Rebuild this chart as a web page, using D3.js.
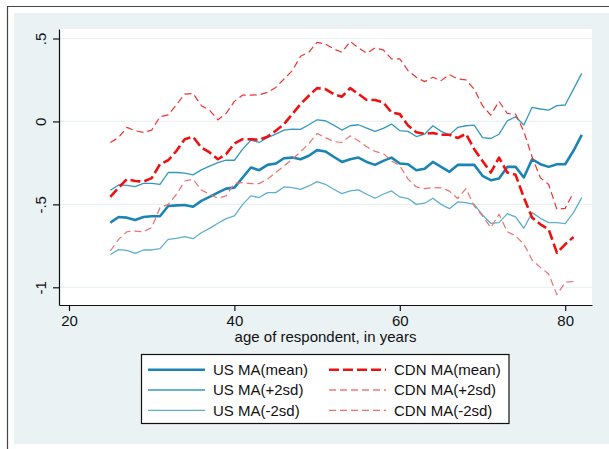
<!DOCTYPE html>
<html>
<head>
<meta charset="utf-8">
<script src="https://cdn.jsdelivr.net/npm/d3@7"></script>
<style>
  html, body { margin: 0; padding: 0; background: #ffffff; }
  svg { display: block; font-family: Arial, "Liberation Sans", sans-serif; }
</style>
</head>
<body>
<svg id="chart" width="609" height="449"></svg>
<script>
// Moving averages by age: US and Canadian samples, mean and +/- 2 sd bands
const usAges  = d3.range(25, 83);   // 25..82
const cdnAges = d3.range(25, 82);   // 25..81

const usMean = [-0.610,-0.576,-0.580,-0.594,-0.576,-0.572,-0.572,-0.510,-0.506,-0.504,
  -0.514,-0.479,-0.455,-0.429,-0.405,-0.399,-0.338,-0.278,-0.294,-0.262,
  -0.254,-0.222,-0.218,-0.228,-0.207,-0.173,-0.181,-0.213,-0.244,-0.228,
  -0.218,-0.244,-0.262,-0.238,-0.218,-0.254,-0.258,-0.294,-0.285,-0.244,
  -0.274,-0.304,-0.262,-0.262,-0.262,-0.328,-0.354,-0.344,-0.274,-0.274,
  -0.338,-0.228,-0.258,-0.274,-0.258,-0.258,-0.177,-0.081];
const usHi = [-0.415,-0.383,-0.385,-0.393,-0.373,-0.373,-0.379,-0.308,-0.308,-0.312,
  -0.322,-0.292,-0.270,-0.248,-0.234,-0.234,-0.167,-0.113,-0.127,-0.097,
  -0.077,-0.052,-0.046,-0.048,-0.020,0.010,0.004,-0.022,-0.052,-0.026,
  -0.020,-0.040,-0.060,-0.042,-0.016,-0.056,-0.060,-0.091,-0.077,-0.026,
  -0.060,-0.081,-0.036,-0.026,-0.022,-0.097,-0.103,-0.077,0.004,0.028,
  -0.022,0.085,0.075,0.068,0.095,0.099,0.195,0.290];
const usLo = [-0.802,-0.773,-0.777,-0.796,-0.775,-0.775,-0.767,-0.711,-0.705,-0.695,
  -0.707,-0.671,-0.645,-0.614,-0.586,-0.570,-0.500,-0.449,-0.459,-0.429,
  -0.429,-0.395,-0.399,-0.409,-0.389,-0.363,-0.379,-0.409,-0.435,-0.419,
  -0.413,-0.439,-0.463,-0.439,-0.419,-0.455,-0.465,-0.500,-0.493,-0.463,
  -0.500,-0.526,-0.485,-0.489,-0.500,-0.564,-0.614,-0.610,-0.556,-0.576,
  -0.644,-0.550,-0.584,-0.610,-0.610,-0.616,-0.550,-0.459];

const cdnMean = [-0.455,-0.399,-0.348,-0.359,-0.363,-0.342,-0.258,-0.234,-0.177,-0.107,
  -0.093,-0.157,-0.187,-0.228,-0.197,-0.133,-0.107,-0.107,-0.111,-0.092,
  -0.056,-0.016,0.044,0.105,0.155,0.201,0.195,0.165,0.149,0.201,
  0.165,0.129,0.129,0.115,0.054,0.044,-0.025,-0.065,-0.075,-0.070,
  -0.080,-0.080,-0.100,-0.075,-0.167,-0.238,-0.308,-0.218,-0.308,-0.322,
  -0.459,-0.580,-0.620,-0.651,-0.792,-0.741,-0.697];
const cdnHi = [-0.127,-0.097,-0.036,-0.056,-0.066,-0.052,0.028,0.040,0.101,0.165,
  0.169,0.095,0.068,0.010,0.048,0.121,0.159,0.159,0.161,0.175,
  0.205,0.256,0.306,0.393,0.417,0.477,0.467,0.437,0.417,0.483,
  0.443,0.411,0.443,0.431,0.377,0.377,0.306,0.266,0.240,0.266,
  0.246,0.282,0.256,0.250,0.195,0.095,0.038,0.121,0.048,0.044,
  -0.060,-0.215,-0.340,-0.380,-0.530,-0.524,-0.429];
const cdnLo = [-0.781,-0.711,-0.665,-0.661,-0.665,-0.640,-0.520,-0.500,-0.439,-0.359,
  -0.348,-0.413,-0.439,-0.463,-0.449,-0.373,-0.369,-0.375,-0.375,-0.348,
  -0.308,-0.268,-0.228,-0.183,-0.133,-0.073,-0.097,-0.121,-0.127,-0.087,
  -0.117,-0.153,-0.181,-0.193,-0.238,-0.268,-0.348,-0.395,-0.405,-0.399,
  -0.400,-0.420,-0.465,-0.405,-0.510,-0.570,-0.640,-0.560,-0.665,-0.690,
  -0.740,-0.835,-0.880,-0.920,-1.045,-0.970,-0.965];

const xTickValues = [20, 40, 60, 80];
const xTickLabels = ["20", "40", "60", "80"];
const yTickValues = [0.5, 0, -0.5, -1];
const yTickLabels = [".5", "0", "-.5", "-1"];
const xTitle = "age of respondent, in years";

const seriesNames = ["US MA(mean)", "US MA(+2sd)", "US MA(-2sd)",
                     "CDN MA(mean)", "CDN MA(+2sd)", "CDN MA(-2sd)"];

// drawing styles
const styles = [
  { color: "#1b84b4", width: 2.6, dash: null },
  { color: "#3598bf", width: 1.3, dash: null },
  { color: "#5eb0c9", width: 1.3, dash: null },
  { color: "#ee1111", width: 2.6, dash: "10,4" },
  { color: "#ea3535", width: 1.2, dash: "7,4" },
  { color: "#ea7272", width: 1.2, dash: "7,4" }
];

const series = [
  { ages: usAges, vals: usMean },
  { ages: usAges, vals: usHi },
  { ages: usAges, vals: usLo },
  { ages: cdnAges, vals: cdnMean },
  { ages: cdnAges, vals: cdnHi },
  { ages: cdnAges, vals: cdnLo }
];

const svg = d3.select("#chart");
const W = 609, H = 449;
const plot = { left: 59, right: 592, top: 29, bottom: 305 };
const bg = "#eaf2f3";

// outer frame
svg.append("rect").attr("x", 0).attr("y", 0).attr("width", W).attr("height", H).attr("fill", "#ffffff");
svg.append("rect").attr("x", 14).attr("y", 13).attr("width", W - 14).attr("height", 431).attr("fill", bg);
svg.append("line").attr("x1", 7.5).attr("x2", 7.5).attr("y1", 6).attr("y2", H).attr("stroke", "#444").attr("stroke-width", 1.2);
svg.append("line").attr("x1", 7).attr("x2", W).attr("y1", 6.5).attr("y2", 6.5).attr("stroke", "#444").attr("stroke-width", 1.2);

// scales: age 20 -> 69px, 80 -> 565px; value .5 -> 38.5px, -1 -> 287.3px
const x = d3.scaleLinear().domain([20, 80]).range([69, 565.2]);
const y = d3.scaleLinear().domain([0.5, -1]).range([38.5, 287.3]);
const xDom = [x.invert(plot.left), x.invert(plot.right)];
const yDom = [y.invert(plot.bottom), y.invert(plot.top)];
x.domain(xDom).range([plot.left, plot.right]);
y.domain(yDom).range([plot.bottom, plot.top]);

// plot region
svg.append("rect").attr("x", plot.left).attr("y", plot.top)
  .attr("width", plot.right - plot.left).attr("height", plot.bottom - plot.top)
  .attr("fill", "#ffffff");

// horizontal grid lines
svg.append("g").selectAll("line").data(yTickValues).join("line")
  .attr("x1", plot.left).attr("x2", plot.right)
  .attr("y1", d => y(d)).attr("y2", d => y(d))
  .attr("stroke", bg).attr("stroke-width", 1.2);

// series lines
const line = d3.line().x(d => x(d[0])).y(d => y(d[1]));
series.forEach((s, i) => {
  const pts = s.ages.map((a, k) => [a, s.vals[k]]);
  const st = styles[i];
  svg.append("path").datum(pts)
    .attr("d", line)
    .attr("fill", "none")
    .attr("stroke", st.color)
    .attr("stroke-width", st.width)
    .attr("stroke-linejoin", "round")
    .attr("stroke-dasharray", st.dash);
});

// axes
const xAxis = d3.axisBottom(x).tickValues(xTickValues)
  .tickFormat((d, i) => xTickLabels[i]).tickSizeInner(6).tickSizeOuter(0).tickPadding(4);
const gx = svg.append("g").attr("transform", `translate(0,${plot.bottom})`).call(xAxis);
gx.selectAll("text").attr("font-size", 15).attr("fill", "#111").attr("font-family", null);
gx.selectAll("line, path").attr("stroke", "#111").attr("stroke-width", 1.2);

const yAxis = d3.axisLeft(y).tickValues(yTickValues)
  .tickFormat((d, i) => yTickLabels[i]).tickSizeInner(6).tickSizeOuter(0).tickPadding(0);
const gy = svg.append("g").attr("transform", `translate(${plot.left},0)`).call(yAxis);
gy.selectAll("line, path").attr("stroke", "#111").attr("stroke-width", 1.2);
gy.selectAll("text")
  .attr("font-size", 15).attr("fill", "#111").attr("font-family", null)
  .attr("x", null).attr("dy", null)
  .attr("text-anchor", "middle")
  .attr("transform", "translate(-13,0) rotate(-90)");

// axis title
svg.append("text").attr("x", (plot.left + plot.right) / 2 + 0).attr("y", 342)
  .attr("text-anchor", "middle").attr("font-size", 15).attr("fill", "#111")
  .text(xTitle);

// legend
const lg = svg.append("g");
lg.append("rect").attr("x", 141.5).attr("y", 354.5).attr("width", 367.5).attr("height", 69)
  .attr("fill", "#ffffff").attr("stroke", "#111").attr("stroke-width", 1.2);
const rowY = [369.8, 390, 410.3];
seriesNames.forEach((name, i) => {
  const col = Math.floor(i / 3), row = i % 3;
  const lx = col === 0 ? 148 : 329;
  const tx = col === 0 ? 213 : 394;
  const st = styles[i];
  lg.append("line").attr("x1", lx).attr("x2", lx + 57)
    .attr("y1", rowY[row]).attr("y2", rowY[row])
    .attr("stroke", st.color).attr("stroke-width", st.width)
    .attr("stroke-dasharray", st.dash);
  lg.append("text").attr("x", tx).attr("y", rowY[row] + 5.3)
    .attr("font-size", 15).attr("fill", "#111").text(name);
});
</script>
</body>
</html>
